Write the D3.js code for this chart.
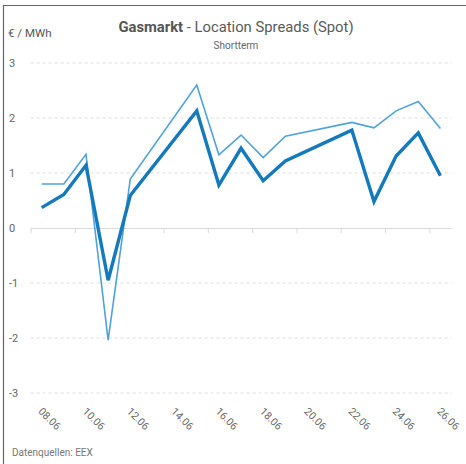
<!DOCTYPE html>
<html>
<head>
<meta charset="utf-8">
<script src="https://cdn.jsdelivr.net/npm/d3@7"></script>
<style>
  html, body { margin: 0; padding: 0; background: #fff; }
  svg { display: block; font-family: Roboto, "Open Sans", sans-serif; }
</style>
</head>
<body>
<div id="chart"></div>
<script>
/* ===== Data ===== */
const dates = ["08.06","09.06","10.06","11.06","12.06","13.06","14.06","15.06","16.06","17.06",
               "18.06","19.06","20.06","21.06","22.06","23.06","24.06","25.06","26.06"];
// null = no quote that day (weekend), line runs straight across
const spreadA = [0.37, 0.61, 1.14, -0.95, 0.59, null, null, 2.13, 0.78, 1.45,
                 0.86, 1.22, null, null, 1.78, 0.48, 1.31, 1.73, 0.95];
const spreadB = [0.80, 0.80, 1.34, -2.04, 0.89, null, null, 2.60, 1.33, 1.69,
                 1.28, 1.67, null, null, 1.92, 1.82, 2.13, 2.30, 1.81];
const yTicks = [-3, -2, -1, 0, 1, 2, 3];

/* ===== Setup ===== */
const W = 466, H = 464;
const svg = d3.select("#chart").append("svg")
  .attr("width", W).attr("height", H);

const x = d3.scaleBand().domain(dates).range([30.6, 451.5]).padding(0);
const y = d3.scaleLinear().domain([-3, 3]).range([393, 63]);
const cx = d => x(d) + x.bandwidth() / 2;

// frame (top + left only)
svg.append("path")
  .attr("d", `M3.5 ${H} V5.5 H${W}`)
  .attr("fill", "none").attr("stroke", "#666").attr("stroke-width", 1.2);

/* ===== Titles ===== */
const title = svg.append("text")
  .attr("x", 236).attr("y", 32)
  .attr("text-anchor", "middle")
  .attr("font-size", 14.8).attr("fill", "#5a5a5a");
title.append("tspan").attr("font-weight", "bold").attr("fill", "#555").text("Gasmarkt");
title.append("tspan").text(" - Location Spreads (Spot)");

svg.append("text")
  .attr("x", 236).attr("y", 49)
  .attr("text-anchor", "middle")
  .attr("font-size", 10).attr("fill", "#666")
  .text("Shortterm");

svg.append("text")
  .attr("x", 8).attr("y", 37)
  .attr("font-size", 11.5).attr("fill", "#555")
  .text("€ / MWh");

svg.append("text")
  .attr("x", 12).attr("y", 456)
  .attr("font-size", 10).attr("fill", "#777")
  .text("Datenquellen: EEX");

/* ===== Grid ===== */
svg.append("g")
  .selectAll("line")
  .data(yTicks.filter(v => v !== 0))
  .join("line")
  .attr("x1", 30.6).attr("x2", 451.5)
  .attr("y1", d => y(d)).attr("y2", d => y(d))
  .attr("stroke", "#dddddd").attr("stroke-width", 1)
  .attr("stroke-dasharray", "3,3");

svg.append("g")
  .selectAll("text")
  .data(yTicks)
  .join("text")
  .attr("x", 9)
  .attr("y", d => y(d) + 4)
  .attr("font-size", 11).attr("fill", "#666")
  .text(d => d < 0 ? "-" + Math.abs(d) : d);

/* ===== Zero axis ===== */
const xAxis = d3.axisBottom(x)
  .tickValues(dates.filter((d, i) => i % 2 === 0))
  .tickSize(5)
  .tickFormat("");
const ax = svg.append("g")
  .attr("transform", `translate(0,${y(0)})`)
  .call(xAxis);
ax.select(".domain").attr("stroke", "#d9d9d9").attr("d", `M30.6,0.5H451.5`);
ax.selectAll(".tick")
  .attr("transform", d => `translate(${x(d) + 0.5},0)`);
ax.selectAll(".tick line").attr("stroke", "#d9d9d9");

/* ===== Date labels ===== */
svg.append("g")
  .selectAll("text")
  .data(dates.filter((d, i) => i % 2 === 0))
  .join("text")
  .attr("transform", d => `translate(${cx(d) - 4},${412}) rotate(45)`)
  .attr("font-size", 10.5).attr("fill", "#666")
  .text(d => d);

/* ===== Lines ===== */
function pts(vals) {
  return dates.map((d, i) => [d, vals[i]]).filter(p => p[1] !== null);
}
const line = d3.line().x(p => cx(p[0])).y(p => y(p[1]));

svg.append("path")
  .datum(pts(spreadB))
  .attr("d", line)
  .attr("fill", "none").attr("stroke", "#4fa3d9")
  .attr("stroke-width", 1.6).attr("stroke-linejoin", "miter");

svg.append("path")
  .datum(pts(spreadA))
  .attr("d", line)
  .attr("fill", "none").attr("stroke", "#1479bd")
  .attr("stroke-width", 3.4).attr("stroke-linejoin", "miter");
</script>
</body>
</html>
